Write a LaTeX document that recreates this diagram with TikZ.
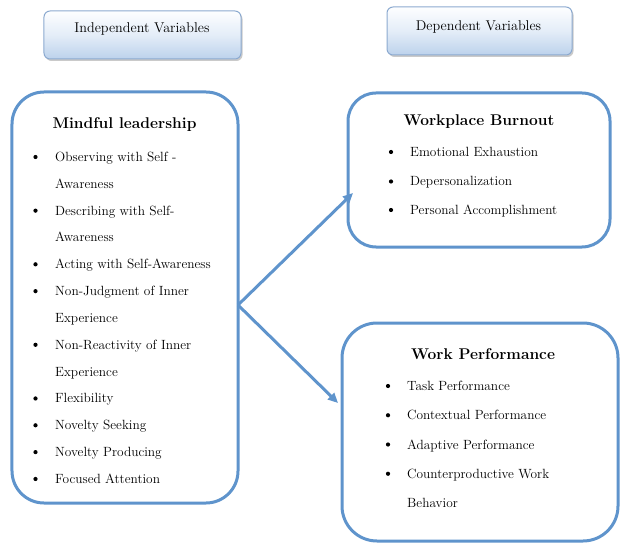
\documentclass[tikz,border=0pt]{standalone}
\usetikzlibrary{arrows.meta,shadows}
\definecolor{boxline}{RGB}{95,148,204}
\definecolor{hdrline}{RGB}{140,170,208}
\definecolor{hdrtop}{RGB}{253,254,255}
\definecolor{hdrmid}{RGB}{228,237,248}
\definecolor{hdrbot}{RGB}{188,210,236}
\tikzset{
  bigbox/.style={draw=boxline, line width=3bp, fill=white, inner sep=0pt},
  hdrbox/.style={draw=hdrline, line width=1bp, rounded corners=6bp,
    top color=hdrtop, bottom color=hdrbot, middle color=hdrmid, inner sep=0pt,
    drop shadow={shadow xshift=1.5bp, shadow yshift=-2bp, opacity=0.35, fill=black!60}},
  hdrtext/.style={font=\fontsize{14.2}{16}\selectfont, inner sep=0pt, anchor=base},
  ttl/.style={font=\fontsize{15.6}{18}\selectfont\bfseries, inner sep=0pt, anchor=base},
  itm/.style={font=\fontsize{13.4}{15}\selectfont, inner sep=0pt, anchor=base west},
  link/.style={draw=boxline, line width=3bp, -{Triangle[length=10bp,width=9bp]}}
}
\begin{document}
\begin{tikzpicture}[x=1bp,y=-1bp]
\useasboundingbox (0,0) rectangle (620,543);

% column headings
\node[hdrbox, minimum width=197bp, minimum height=48bp] (hIV) at (142.5,35) {};
\node[hdrtext] (tIV) at (142,32.5) {Independent Variables};
\node[hdrbox, minimum width=185bp, minimum height=48bp] (hDV) at (479.5,31) {};
\node[hdrtext] (tDV) at (478.5,31) {Dependent Variables};

% independent variable
\node[bigbox, rounded corners=32bp, minimum width=226bp, minimum height=411bp] (ml) at (125,297.5) {};
\node[ttl] (mlT) at (124.5,129) {Mindful leadership};
\foreach \t [count=\i from 0] in {Observing with Self -,Awareness,Describing with Self-,Awareness,Acting with Self-Awareness,Non-Judgment of Inner,Experience,Non-Reactivity of Inner,Experience,Flexibility,Novelty Seeking,Novelty Producing,Focused Attention}
  \node[itm] (ml\i) at (55,161.5+26.83*\i) {\t};
\foreach \i in {0,2,4,5,7,9,10,11,12}
  \fill (35.5,157+26.83*\i) circle (2.1bp);

% dependent variables
\node[bigbox, rounded corners=28bp, minimum width=262bp, minimum height=154bp] (wb) at (479,170) {};
\node[ttl] (wbT) at (479,126) {Workplace Burnout};
\node[itm] (wb0) at (410,156.5) {Emotional Exhaustion};
\node[itm] (wb1) at (410,186) {Depersonalization};
\node[itm] (wb2) at (410,214.5) {Personal Accomplishment};
\foreach \y in {152,181.5,210} \fill (391,\y) circle (2.1bp);

\node[bigbox, rounded corners=35bp, minimum width=276bp, minimum height=218bp] (wp) at (480,432) {};
\node[ttl] (wpT) at (483,359) {Work Performance};
\foreach \t [count=\i from 0] in {Task Performance,Contextual Performance,Adaptive Performance,Counterproductive Work,Behavior}
  \node[itm] (wp\i) at (407,390.5+29.25*\i) {\t};
\foreach \i in {0,1,2,3}
  \fill (388,386+29.25*\i) circle (2.1bp);

% links
\coordinate (src) at (238,305);
\coordinate (toWB) at (353,193);
\coordinate (toWP) at (338,403);
\draw[link] (src) -- (toWB);
\draw[link] (src) -- (toWP);
\end{tikzpicture}
\end{document}
